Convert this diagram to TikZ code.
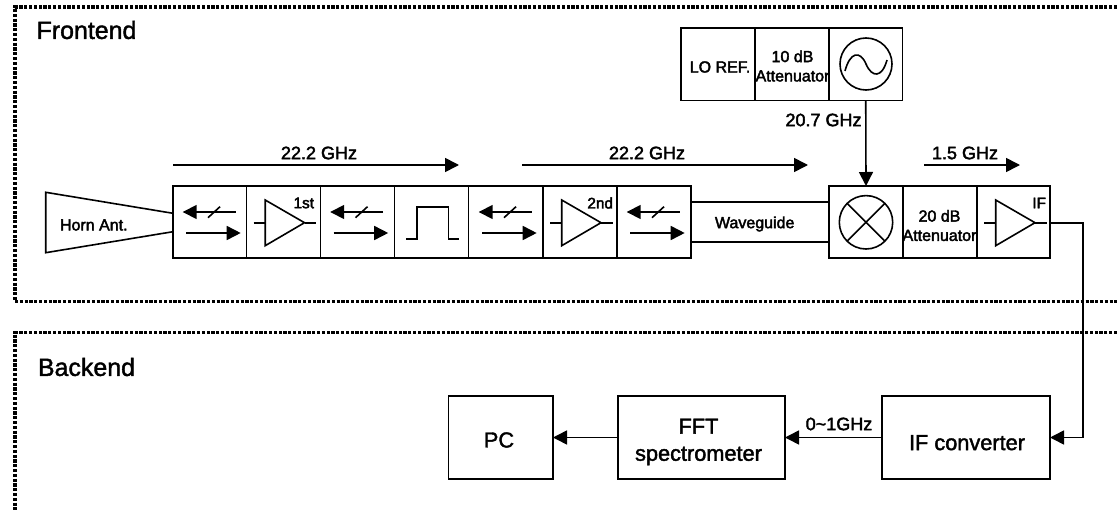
\documentclass[tikz,border=0pt]{standalone}
\usepackage{fontspec}
\setmainfont{Liberation Sans}
\usetikzlibrary{arrows.meta}
\tikzset{
  x=0.75pt,y=-0.75pt,
  frame/.style={line width=2.5pt,dash pattern=on 2.4pt off 1.2pt},
  box/.style={draw,rectangle,inner sep=0pt,outer sep=0pt,line join=miter},
  conn/.style={-{Triangle[length=10.5pt,width=10.5pt]}},
  sym/.style={line join=miter},
  txt/.style={inner sep=0pt,outer sep=0pt,align=center,font=\fontsize{13.5}{14.5}\selectfont,
    execute at begin node={\special{pdf:code q 2 Tr 0.3 w}},
    execute at end node={\special{pdf:code Q}}},
  txts/.style={txt,font=\fontsize{12}{14.5}\selectfont},
  txtm/.style={txt,font=\fontsize{16.3}{20}\selectfont},
  txtl/.style={txt,font=\fontsize{18.7}{20}\selectfont},
}
% name, x1, y1, x2, y2
\newcommand{\blk}[5]{%
  \pgfmathsetmacro{\bw}{(#4-#2)*0.75}%
  \pgfmathsetmacro{\bh}{(#5-#3)*0.75}%
  \node[box,minimum width=\bw pt,minimum height=\bh pt] (#1) at ({(#2+#4)/2},{(#3+#5)/2}) {};}
\newcommand{\isolator}[1]{%
  \draw[conn] ({#1+62.7},212) -- ({#1+9.7},212);
  \draw ({#1+35},217.7) -- ({#1+47},206.7);
  \draw[conn] ({#1+13},233) -- ({#1+67.7},233);}
\newcommand{\amplifier}[1]{%
  \draw[sym] ({#1+18.7},200) -- ({#1+18.7},245.7) -- ({#1+58},222.7) -- cycle;
  \draw ({#1+7},222.7) -- ({#1+18.7},222.7);
  \draw ({#1+58},222.7) -- ({#1+69.5},222.7);}
\begin{document}
\begin{tikzpicture}[line width=1.2pt]
\useasboundingbox (0,0) rectangle (1117,510);
% frames
\draw[frame] (1117,7) -- (15,7) -- (15,301.7) -- (1117,301.7);
\draw[frame] (1117,332.7) -- (15,332.7) -- (15,510);
\node[txtl] (frontend) at (86.5,30) {Frontend};
\node[txtl] (backend) at (86.5,367) {Backend};
% horn
\draw[sym] (173,213.3) -- (45.7,192.3) -- (45.7,252.7) -- (173,231.7);
\node[txts] (horntxt) at (93.8,225) {Horn Ant.};
% main chain
\blk{isoa}{173}{186}{246.5}{258}
\blk{ampa}{246.5}{186}{320.5}{258}
\blk{isob}{320.5}{186}{394.5}{258}
\blk{bpf}{394.5}{186}{468.5}{258}
\blk{isoc}{468.5}{186}{543}{258}
\blk{ampb}{543}{186}{617}{258}
\blk{isod}{617}{186}{691}{258}
\blk{wg}{691}{202}{829}{242}
\blk{mixer}{829}{186}{903}{258}
\blk{atta}{903}{186}{977}{258}
\blk{ampc}{977}{186}{1050}{258}
% LO chain
\blk{lo}{681}{28}{755}{100.7}
\blk{attb}{755}{28}{829}{100.7}
\blk{osc}{829}{28}{902.5}{100.7}
% backend
\blk{pc}{448.5}{396}{553}{479}
\blk{fft}{618}{396}{785}{479}
\blk{ifc}{882}{396}{1050}{479}
% symbols
\isolator{173}
\isolator{320.5}
\isolator{469}
\isolator{617}
\amplifier{246.5}
\amplifier{543}
\amplifier{977}
\draw[sym] (406,238.7) -- (416.7,238.7) -- (416.7,206.7) -- (448.3,206.7) -- (448.3,238.7) -- (458.7,238.7);
\draw (866,222.3) circle [radius=26.7];
\draw (847.1,203.4) -- (884.9,241.2);
\draw (847.1,241.2) -- (884.9,203.4);
\draw (866,64) circle [radius=26];
\draw (845,71) .. controls (850,52) and (860,50) .. (866,64) .. controls (872,78) and (882,78) .. (887,60);
% labels in blocks
\node[txt,font=\fontsize{11.5}{12}\selectfont,anchor=east] (t1st) at (314,203) {1st};
\node[txt,font=\fontsize{11.5}{12}\selectfont,anchor=east] (t2nd) at (613,203) {2nd};
\node[txt,font=\fontsize{11.5}{12}\selectfont,anchor=east] (tif) at (1046,203) {IF};
\node[txts] (twg) at (754.7,224) {Waveguide};
\node[txts] (tlo) at (720,67) {LO REF.};
\node[txts] (tattb) at (792.5,66) {10 dB\\Attenuator};
\node[txts] (tatta) at (939.5,225.5) {20 dB\\Attenuator};
\node[txtm] (tifc) at (967,442.7) {IF converter};
\node[txtm,align=center,font=\fontsize{16.3}{20.3}\selectfont] (tfft) at (698.5,442) {FFT\\spectrometer};
\node[txtm] (tpc) at (499,440) {PC};
% frequency arrows
\coordinate (fa1) at (173,165); \coordinate (fa2) at (459,165);
\coordinate (fb1) at (522,165); \coordinate (fb2) at (808,165);
\coordinate (fc1) at (924,165); \coordinate (fc2) at (1020,165);
\draw[conn] (fa1) -- (fa2);
\draw[conn] (fb1) -- (fb2);
\draw[conn] (fc1) -- (fc2);
\node[txt] (la) at (319,153) {22.2 GHz};
\node[txt] (lb) at (647,153) {22.2 GHz};
\node[txt] (lc) at (965,153) {1.5 GHz};
\node[txt] (ld) at (823.5,120) {20.7 GHz};
\node[txt] (le) at (839,424) {0\textasciitilde 1GHz};
% connectors
\draw[conn] (osc.south) -- (mixer.north);
\coordinate (ifout) at (1050,222.7);
\coordinate (bend) at (1083,222.7);
\draw[conn] (ifout) -- (bend) |- (ifc.east);
\draw[conn] (ifc.west) -- (fft.east);
\draw[conn] (fft.west) -- (pc.east);
\end{tikzpicture}
\end{document}
